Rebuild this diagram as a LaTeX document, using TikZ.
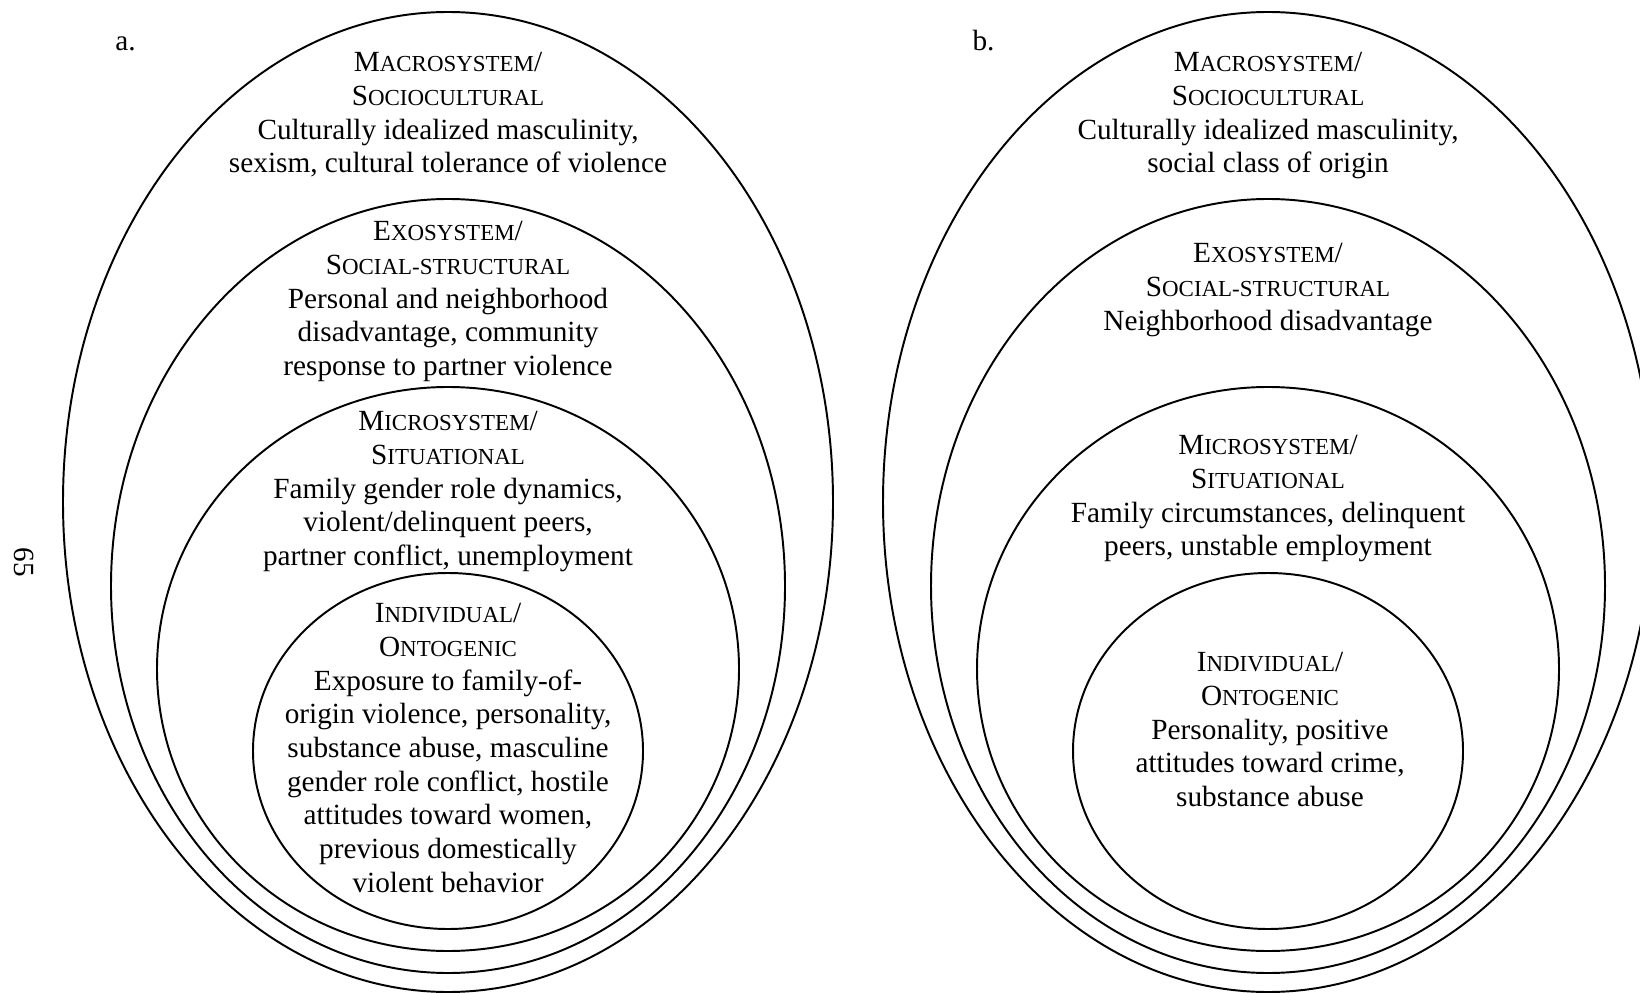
\documentclass[tikz,border=0pt]{standalone}
\usepackage{fontspec}
\setmainfont{Liberation Serif}
\newcommand{\fakesc}[2]{#1{\fontsize{9.4pt}{13.8pt}\selectfont #2}}
\tikzset{
  ringline/.style={draw=black, line width=0.8pt},
  ringtext/.style={
    anchor=north, align=center, inner sep=0pt,
    font=\fontsize{12pt}{13.8pt}\selectfont
  },
  paneltag/.style={
    anchor=base west, inner sep=0pt,
    font=\fontsize{12pt}{13.8pt}\selectfont
  }
}

\begin{document}
\begin{tikzpicture}[x=0.41pt, y=-0.41pt]
  \useasboundingbox (0,0) rectangle (1640,993);
  \clip (0,0) rectangle (1640,993);

  % Page number
  \node[rotate=-90, inner sep=0pt, font=\fontsize{12pt}{13.8pt}\selectfont] (pagenum) at (24,562) {65};

  % Panel a: nested rings
  \draw[ringline] (448,502) ellipse [x radius=385, y radius=490];
  \draw[ringline] (448,586) ellipse [x radius=337, y radius=387];
  \draw[ringline] (448,669) ellipse [x radius=291, y radius=282];
  \draw[ringline] (448,751) ellipse [x radius=195, y radius=178];

  \node[paneltag] (taga) at (115,51) {a.};
  \node[ringtext] (macroa) at (448,52)
    {\fakesc{M}{ACROSYSTEM}/\\\fakesc{S}{OCIOCULTURAL}\\Culturally idealized masculinity,\\sexism, cultural tolerance of violence};
  \node[ringtext] (exoa) at (448,221)
    {\fakesc{E}{XOSYSTEM}/\\\fakesc{S}{OCIAL-STRUCTURAL}\\Personal and neighborhood\\disadvantage, community\\response to partner violence};
  \node[ringtext] (microa) at (448,411)
    {\fakesc{M}{ICROSYSTEM}/\\\fakesc{S}{ITUATIONAL}\\Family gender role dynamics,\\violent/delinquent peers,\\partner conflict, unemployment};
  \node[ringtext] (indiva) at (448,603)
    {\fakesc{I}{NDIVIDUAL}/\\\fakesc{O}{NTOGENIC}\\Exposure to family-of-\\origin violence, personality,\\substance abuse, masculine\\gender role conflict, hostile\\attitudes toward women,\\previous domestically\\violent behavior};

  % Panel b: nested rings
  \draw[ringline] (1268,502) ellipse [x radius=385, y radius=490];
  \draw[ringline] (1268,586) ellipse [x radius=337, y radius=387];
  \draw[ringline] (1268,669) ellipse [x radius=291, y radius=282];
  \draw[ringline] (1268,751) ellipse [x radius=195, y radius=178];

  \node[paneltag] (tagb) at (972,51) {b.};
  \node[ringtext] (macrob) at (1268,52)
    {\fakesc{M}{ACROSYSTEM}/\\\fakesc{S}{OCIOCULTURAL}\\Culturally idealized masculinity,\\social class of origin};
  \node[ringtext] (exob) at (1268,243)
    {\fakesc{E}{XOSYSTEM}/\\\fakesc{S}{OCIAL-STRUCTURAL}\\Neighborhood disadvantage};
  \node[ringtext] (microb) at (1268,435)
    {\fakesc{M}{ICROSYSTEM}/\\\fakesc{S}{ITUATIONAL}\\Family circumstances, delinquent\\peers, unstable employment};
  \node[ringtext] (indivb) at (1270,652)
    {\fakesc{I}{NDIVIDUAL}/\\\fakesc{O}{NTOGENIC}\\Personality, positive\\attitudes toward crime,\\substance abuse};
\end{tikzpicture}
\end{document}
